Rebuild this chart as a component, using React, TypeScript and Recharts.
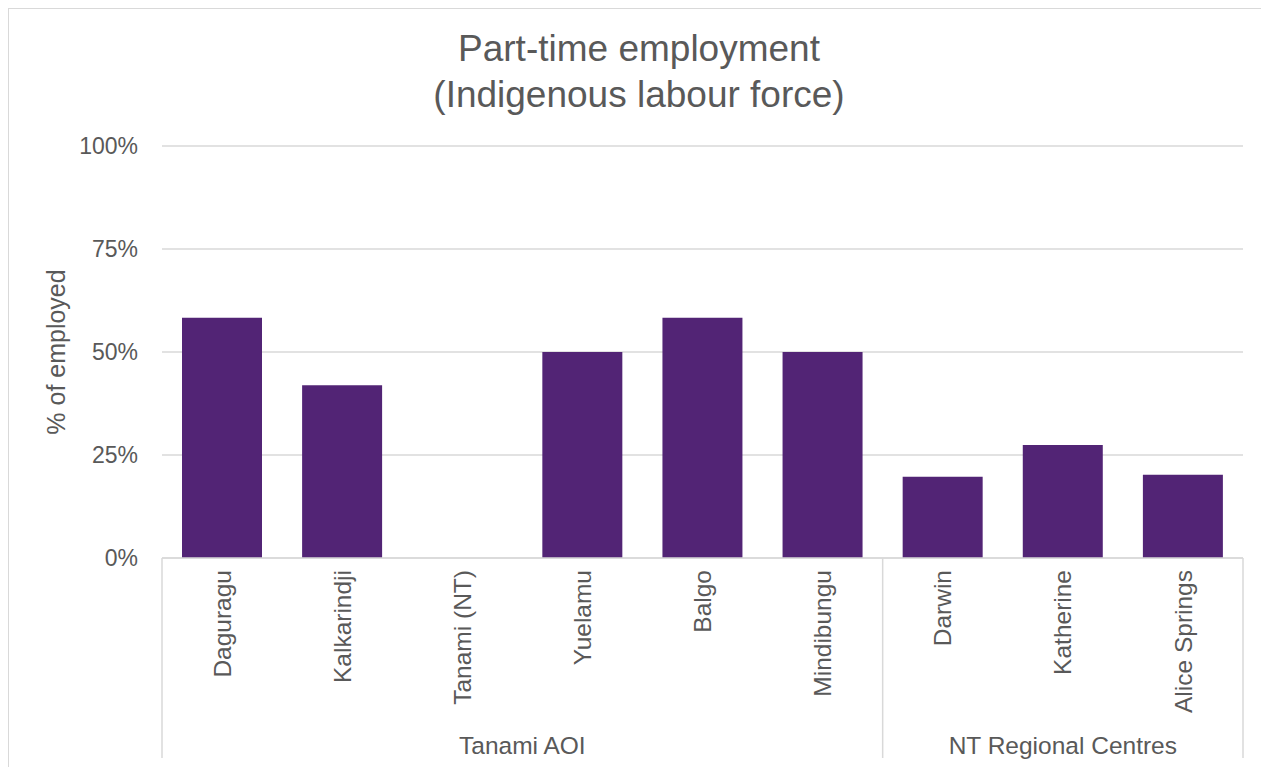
import React from "react";
import { BarChart, Bar, XAxis, YAxis, CartesianGrid } from "recharts";

const places = [
  "Daguragu",
  "Kalkarindji",
  "Tanami (NT)",
  "Yuelamu",
  "Balgo",
  "Mindibungu",
  "Darwin",
  "Katherine",
  "Alice Springs",
];
const partTimeShare = [58.3, 41.9, 0, 50, 58.3, 50, 19.7, 27.4, 20.2];
const groupNames = ["Tanami AOI", "NT Regional Centres"];
const groupSizes = [6, 3];
const yTicks = [0, 25, 50, 75, 100];

const data = places.map((name, i) => ({ name, value: partTimeShare[i] }));

const TEXT = "#595959";
const GRID = "#d9d9d9";
const FONT = "'Liberation Sans', Arial, sans-serif";

// start index of each group, used to place separators + group labels
const groupStarts = groupSizes.map((_, g) =>
  groupSizes.slice(0, g).reduce((a, b) => a + b, 0)
);

function CategoryTick(props: any) {
  const { x, y, payload, index, width, visibleTicksCount } = props;
  const bw = width / visibleTicksCount;
  const g = groupStarts.indexOf(index);
  const last = index === visibleTicksCount - 1;
  return (
    <g>
      <text
        transform={`translate(${x},${y + 12}) rotate(-90)`}
        textAnchor="end"
        dy="0.35em"
        fill={TEXT}
        fontSize={24.5}
        fontFamily={FONT}
      >
        {payload.value}
      </text>
      {g >= 0 && (
        <>
          <line x1={x - bw / 2} x2={x - bw / 2} y1={y} y2={y + 200} stroke={GRID} strokeWidth={1.5} />
          <text
            x={x - bw / 2 + (groupSizes[g] * bw) / 2}
            y={y + 187}
            dy="0.35em"
            textAnchor="middle"
            fill={TEXT}
            fontSize={24.5}
            fontFamily={FONT}
          >
            {groupNames[g]}
          </text>
        </>
      )}
      {last && (
        <line x1={x + bw / 2} x2={x + bw / 2} y1={y} y2={y + 200} stroke={GRID} strokeWidth={1.5} />
      )}
    </g>
  );
}

export default function App() {
  return (
    <div
      style={{
        position: "relative",
        width: 1260,
        height: 758,
        border: `1px solid ${GRID}`,
        background: "#fff",
      }}
    >
      <div
        style={{
          position: "absolute",
          top: 17,
          left: 0,
          width: "100%",
          textAlign: "center",
          fontFamily: FONT,
          fontSize: 37,
          lineHeight: "46px",
          color: TEXT,
        }}
      >
        Part-time employment
        <br />
        (Indigenous labour force)
      </div>
      <BarChart
        width={1260}
        height={758}
        data={data}
        margin={{ top: 137, right: 26, bottom: 0, left: 0 }}
        barCategoryGap={20}
      >
        <CartesianGrid vertical={false} stroke={GRID} strokeWidth={1.5} />
        <YAxis
          domain={[0, 100]}
          ticks={yTicks}
          width={153}
          axisLine={false}
          tickLine={false}
          tickSize={0}
          tickMargin={24}
          tickFormatter={(v: number) => `${v}%`}
          tick={{ fill: TEXT, fontSize: 23, fontFamily: FONT }}
          label={{
            value: "% of employed",
            angle: -90,
            position: "insideLeft",
            offset: 47,
            fill: TEXT,
            fontSize: 25,
            fontFamily: FONT,
            style: { textAnchor: "middle" },
          }}
        />
        <XAxis
          dataKey="name"
          interval={0}
          height={209}
          tickLine={false}
          tickSize={0}
          tickMargin={0}
          axisLine={{ stroke: GRID, strokeWidth: 1.5 }}
          tick={<CategoryTick />}
        />
        <Bar dataKey="value" fill="#522475" isAnimationActive={false} />
      </BarChart>
    </div>
  );
}
